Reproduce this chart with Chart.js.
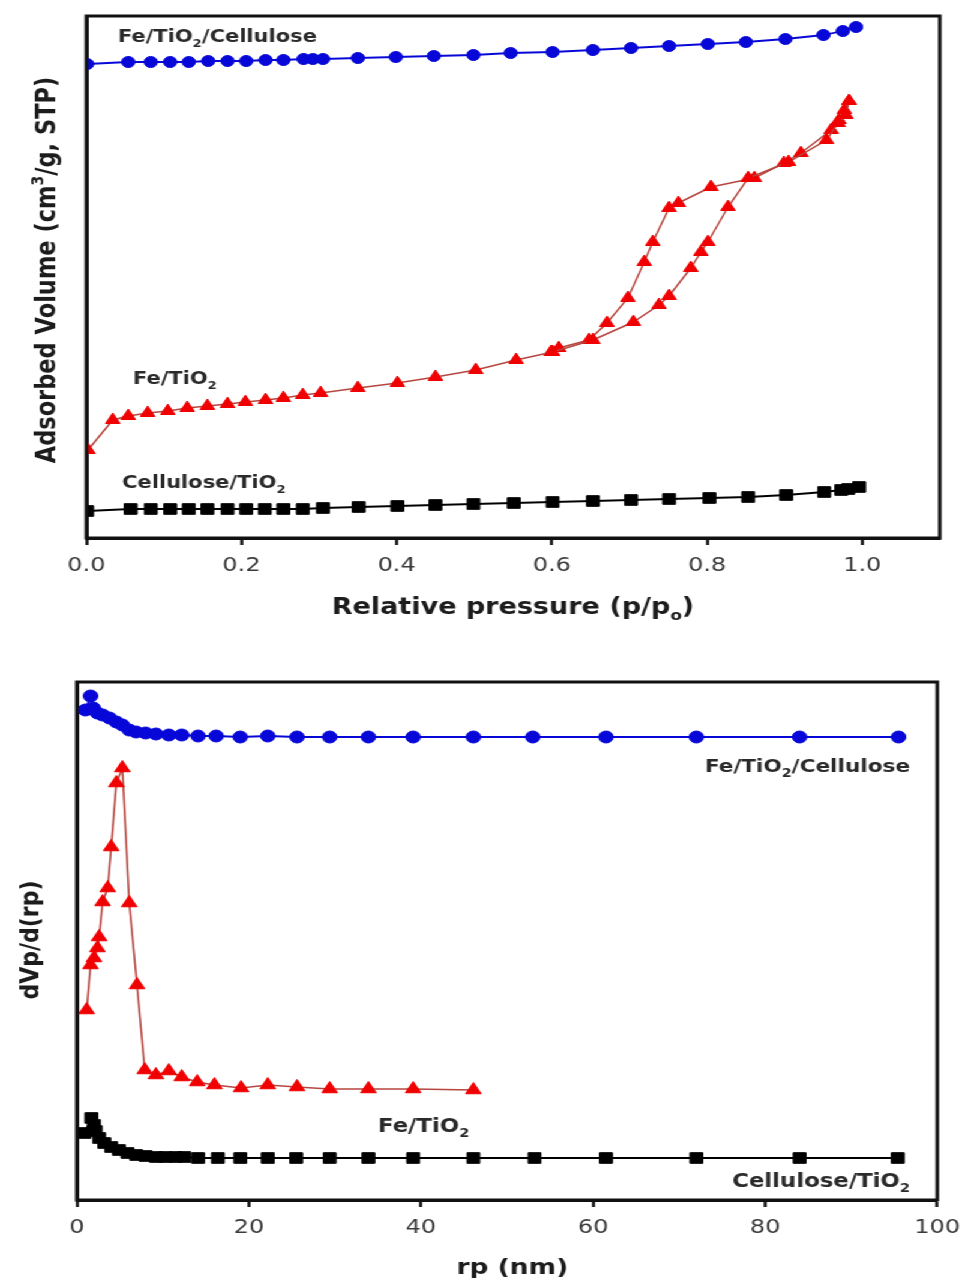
<!DOCTYPE html>
<html>
<head>
<meta charset="utf-8">
<script src="https://cdn.jsdelivr.net/npm/chart.js@4.4.1/dist/chart.umd.min.js"></script>
<style>
  html, body { margin: 0; padding: 0; background: #fff; overflow: hidden; }
  #stage { position: absolute; left: 0; top: 0; width: 809px; height: 1281px;
           transform: scaleX(1.2002); transform-origin: 0 0; }
  #iso { position: absolute; left: 0; top: 0; width: 809px; height: 620px; }
  #psd { position: absolute; left: 0; top: 620px; width: 809px; height: 661px; }
</style>
</head>
<body>
<div id="stage">
  <canvas id="iso" width="809" height="620"></canvas>
  <canvas id="psd" width="809" height="661"></canvas>
</div>
<script>
// ---------- N2 adsorption isotherms (relative pressure vs adsorbed volume, arb. units) ----------
const isoP_CelTiO2 = [0.001,0.057,0.083,0.108,0.132,0.156,0.182,0.206,0.230,0.254,0.279,0.305,0.351,0.401,0.450,0.499,0.551,0.601,0.653,0.702,0.751,0.803,0.853,0.902,0.951,0.973,0.982,0.996];
const isoV_CelTiO2 = [13.5,14.5,14.5,14.5,14.5,14.5,14.5,14.5,14.5,14.5,14.5,15,15.5,16,16.5,17,17.5,18,18.5,19,19.5,20,20.5,21.5,23,24,24.5,25.5];

const isoP_FeTiO2Cel = [0.001,0.054,0.083,0.108,0.132,0.157,0.182,0.206,0.231,0.254,0.280,0.292,0.305,0.350,0.399,0.448,0.499,0.547,0.601,0.653,0.702,0.751,0.801,0.850,0.901,0.950,0.975,0.992];
const isoV_FeTiO2Cel = [237,238,238,238,238,238.5,238.5,238.5,239,239,239.5,239.5,239.5,240,240.5,241,241.5,242.5,243,244,245,246,247,248,249.5,251.5,253.5,255.5];

// Fe/TiO2: adsorption branch
const isoP_FeTiO2_ads = [0.002,0.034,0.054,0.079,0.105,0.130,0.156,0.182,0.205,0.231,0.254,0.279,0.302,0.350,0.401,0.450,0.502,0.554,0.601,0.653,0.705,0.738,0.751,0.779,0.792,0.801,0.827,0.853,0.905,0.954,0.969,0.979,0.983];
const isoV_FeTiO2_ads = [44,59,61,62.5,63.5,65,66,67,68,69,70,71.5,72.5,75,77.5,80.5,84,89,93,99,108,116.5,121,135,143,148,165.5,180,188,199,207.5,211.5,218.5];
// Fe/TiO2: desorption branch
const isoP_FeTiO2_des = [0.983,0.977,0.970,0.960,0.921,0.899,0.861,0.805,0.763,0.751,0.730,0.719,0.698,0.671,0.648,0.609,0.599];
const isoV_FeTiO2_des = [218.5,214,209,204,192.5,187.5,180,175.5,167.5,165,148,138,120,107.5,99,95,93];

const isoTickValues = [0, 0.2, 0.4, 0.6, 0.8, 1.0];
const isoTickLabels = ['0.0', '0.2', '0.4', '0.6', '0.8', '1.0'];

// ---------- BJH pore size distribution (rp in nm vs dVp/d(rp), arb. units) ----------
const psdR_FeTiO2Cel = [1.0,1.6,1.9,2.4,3.0,3.8,4.6,5.3,6.1,6.9,8.0,9.2,10.7,12.2,14.1,16.2,19.0,22.2,25.6,29.4,33.9,39.1,46.1,53.0,61.5,72.0,84.0,95.5];
const psdV_FeTiO2Cel = [245,252,246,243.5,242.5,241,239,237.5,235,234,233.5,233,232.5,232.5,232,232,231.5,232,231.5,231.5,231.5,231.5,231.5,231.5,231.5,231.5,231.5,231.5];

const psdR_FeTiO2 = [1.15,1.6,2.0,2.4,2.6,3.0,3.6,4.0,4.6,5.3,6.1,7.0,7.9,9.2,10.7,12.2,14.0,16.0,19.1,22.2,25.6,29.4,33.9,39.1,46.1];
const psdV_FeTiO2 = [95,117.5,121,126,131.5,149,156,176.5,208.5,216,148.5,107.5,65,62.5,64.5,61.5,59,57.5,56,57.5,56.5,55.5,55.5,55.5,55];

const psdR_CelTiO2 = [0.9,1.7,2.0,2.2,2.6,3.2,4.0,4.9,5.9,6.9,8.0,9.2,10.3,11.5,12.5,14.1,16.4,19.0,22.2,25.5,29.4,33.9,39.1,46.1,53.2,61.5,72.0,84.0,95.4];
const psdV_CelTiO2 = [33.5,41,37.5,34.5,31,28.5,26.5,25,23.5,22.5,22,21.5,21.5,21.5,21.5,21,21,21,21,21,21,21,21,21,21,21,21,21,21];

const psdTickValues = [0, 20, 40, 60, 80, 100];
const psdTickLabels = ['0', '20', '40', '60', '80', '100'];

// ---------- helpers ----------
const FONT = '"DejaVu Sans", "Liberation Sans", sans-serif';
const BLUE = '#0707d8', RED = '#f00000', RED_LINE = '#b6463f', BLACK = '#000000';

function pts(xs, ys) { return xs.map((x, i) => ({ x, y: ys[i] })); }

function series(xs, ys, color, lineColor, style, radius, lineWidth) {
  return {
    data: pts(xs, ys), showLine: true,
    borderColor: lineColor, borderWidth: lineWidth,
    pointStyle: style, pointRadius: radius, pointHoverRadius: radius,
    pointBackgroundColor: color, pointBorderColor: color, pointBorderWidth: 1,
    tension: 0
  };
}

// Text runs: normal / subscript / superscript pieces, drawn in sequence
function drawRuns(ctx, it) {
  const base = `bold ${it.size}px ${FONT}`;
  const small = `bold ${Math.round(it.size * 0.64)}px ${FONT}`;
  ctx.save();
  ctx.fillStyle = it.color || '#2a2a2a';
  ctx.textBaseline = 'alphabetic';
  ctx.textAlign = 'left';
  let total = 0;
  const widths = it.runs.map(r => {
    ctx.font = (r.sub || r.sup) ? small : base;
    const w = ctx.measureText(r.t).width;
    total += w;
    return w;
  });
  ctx.translate(it.x, it.y);
  if (it.rotate) ctx.rotate(it.rotate);
  let x = it.align === 'center' ? -total / 2 : (it.align === 'right' ? -total : 0);
  it.runs.forEach((r, i) => {
    ctx.font = (r.sub || r.sup) ? small : base;
    const dy = r.sub ? it.size * 0.26 : (r.sup ? -it.size * 0.42 : 0);
    ctx.fillText(r.t, x, dy);
    x += widths[i];
  });
  ctx.restore();
}

function framePlugin(items) {
  return {
    id: 'frameAndText',
    afterDatasetsDraw(chart) {
      const { ctx, chartArea: a } = chart;
      ctx.save();
      ctx.strokeStyle = '#111';
      ctx.lineWidth = 3;
      ctx.strokeRect(a.left, a.top, a.right - a.left, a.bottom - a.top);
      ctx.restore();
    },
    afterDraw(chart) {
      items.forEach(it => drawRuns(chart.ctx, it));
    }
  };
}

function xAxis(min, max, values, labels, height) {
  return {
    type: 'linear', min, max,
    afterBuildTicks: s => { s.ticks = values.map(v => ({ value: v })); },
    afterFit: s => { s.height = height; },
    ticks: {
      callback: (v, i) => labels[i],
      font: { family: FONT, size: 20 }, color: '#3a3a3a',
      padding: 9, maxRotation: 0, autoSkip: false, includeBounds: false
    },
    grid: { drawOnChartArea: false, drawTicks: true, tickLength: 7, tickWidth: 2.5, tickColor: '#111' },
    border: { display: true, color: '#111', width: 3 }
  };
}

function yAxis(max, width) {
  return {
    type: 'linear', min: 0, max,
    afterFit: s => { s.width = width; },
    ticks: { display: false },
    grid: { display: false, drawTicks: false },
    border: { display: true, color: '#111', width: 3 }
  };
}

function baseOptions(pad, x, y) {
  return {
    responsive: false, animation: false, events: [],
    layout: { padding: pad, autoPadding: false },
    plugins: { legend: { display: false }, tooltip: { enabled: false } },
    scales: { x, y }
  };
}

// ---------- isotherm panel ----------
new Chart(document.getElementById('iso'), {
  type: 'scatter',
  data: {
    datasets: [
      series(isoP_FeTiO2Cel, isoV_FeTiO2Cel, BLUE, BLUE, 'circle', 5.5, 1.8),
      series(isoP_FeTiO2_ads, isoV_FeTiO2_ads, RED, RED_LINE, 'triangle', 7, 1.5),
      series(isoP_FeTiO2_des, isoV_FeTiO2_des, RED, RED_LINE, 'triangle', 7, 1.5),
      series(isoP_CelTiO2, isoV_CelTiO2, BLACK, BLACK, 'rect', 7.5, 1.8)
    ]
  },
  options: baseOptions({ left: 0, top: 16, right: 26, bottom: 0 },
    xAxis(0, 1.1, isoTickValues, isoTickLabels, 82),
    yAxis(261, 72)),
  plugins: [framePlugin([
    { runs: [{ t: 'Fe/TiO' }, { t: '2', sub: true }, { t: '/Cellulose' }], x: 98.3, y: 42, size: 17.5 },
    { runs: [{ t: 'Fe/TiO' }, { t: '2', sub: true }], x: 110.8, y: 384, size: 17.5 },
    { runs: [{ t: 'Cellulose/TiO' }, { t: '2', sub: true }], x: 101.7, y: 488, size: 17.5 },
    { runs: [{ t: 'Relative pressure (p/p' }, { t: 'o', sub: true }, { t: ')' }], x: 427.4, y: 614, size: 22.5, align: 'center', color: '#1c1c1c' },
    { runs: [{ t: 'Adsorbed Volume (cm' }, { t: '3', sup: true }, { t: '/g, STP)' }], x: 45.8, y: 270, size: 22.5, align: 'center', rotate: -Math.PI / 2, color: '#1c1c1c' }
  ])]
});

// ---------- pore size distribution panel ----------
new Chart(document.getElementById('psd'), {
  type: 'scatter',
  data: {
    datasets: [
      series(psdR_FeTiO2Cel, psdV_FeTiO2Cel, BLUE, BLUE, 'circle', 6, 1.8),
      series(psdR_FeTiO2, psdV_FeTiO2, RED, RED_LINE, 'triangle', 7.5, 1.6),
      series(psdR_CelTiO2, psdV_CelTiO2, BLACK, BLACK, 'rect', 7.5, 1.8)
    ]
  },
  options: baseOptions({ left: 0, top: 62, right: 20, bottom: 0 },
    xAxis(0, 100, psdTickValues, psdTickLabels, 81),
    yAxis(259, 64)),
  plugins: [framePlugin([
    { runs: [{ t: 'Fe/TiO' }, { t: '2', sub: true }, { t: '/Cellulose' }], x: 758.2, y: 152, size: 18, align: 'right' },
    { runs: [{ t: 'Fe/TiO' }, { t: '2', sub: true }], x: 315, y: 512, size: 19 },
    { runs: [{ t: 'Cellulose/TiO' }, { t: '2', sub: true }], x: 610, y: 567, size: 19 },
    { runs: [{ t: 'rp (nm)' }], x: 427, y: 654, size: 22, align: 'center', color: '#1c1c1c' },
    { runs: [{ t: 'dVp/d(rp)' }], x: 31.7, y: 320, size: 22, align: 'center', rotate: -Math.PI / 2, color: '#1c1c1c' }
  ])]
});
</script>
</body>
</html>
